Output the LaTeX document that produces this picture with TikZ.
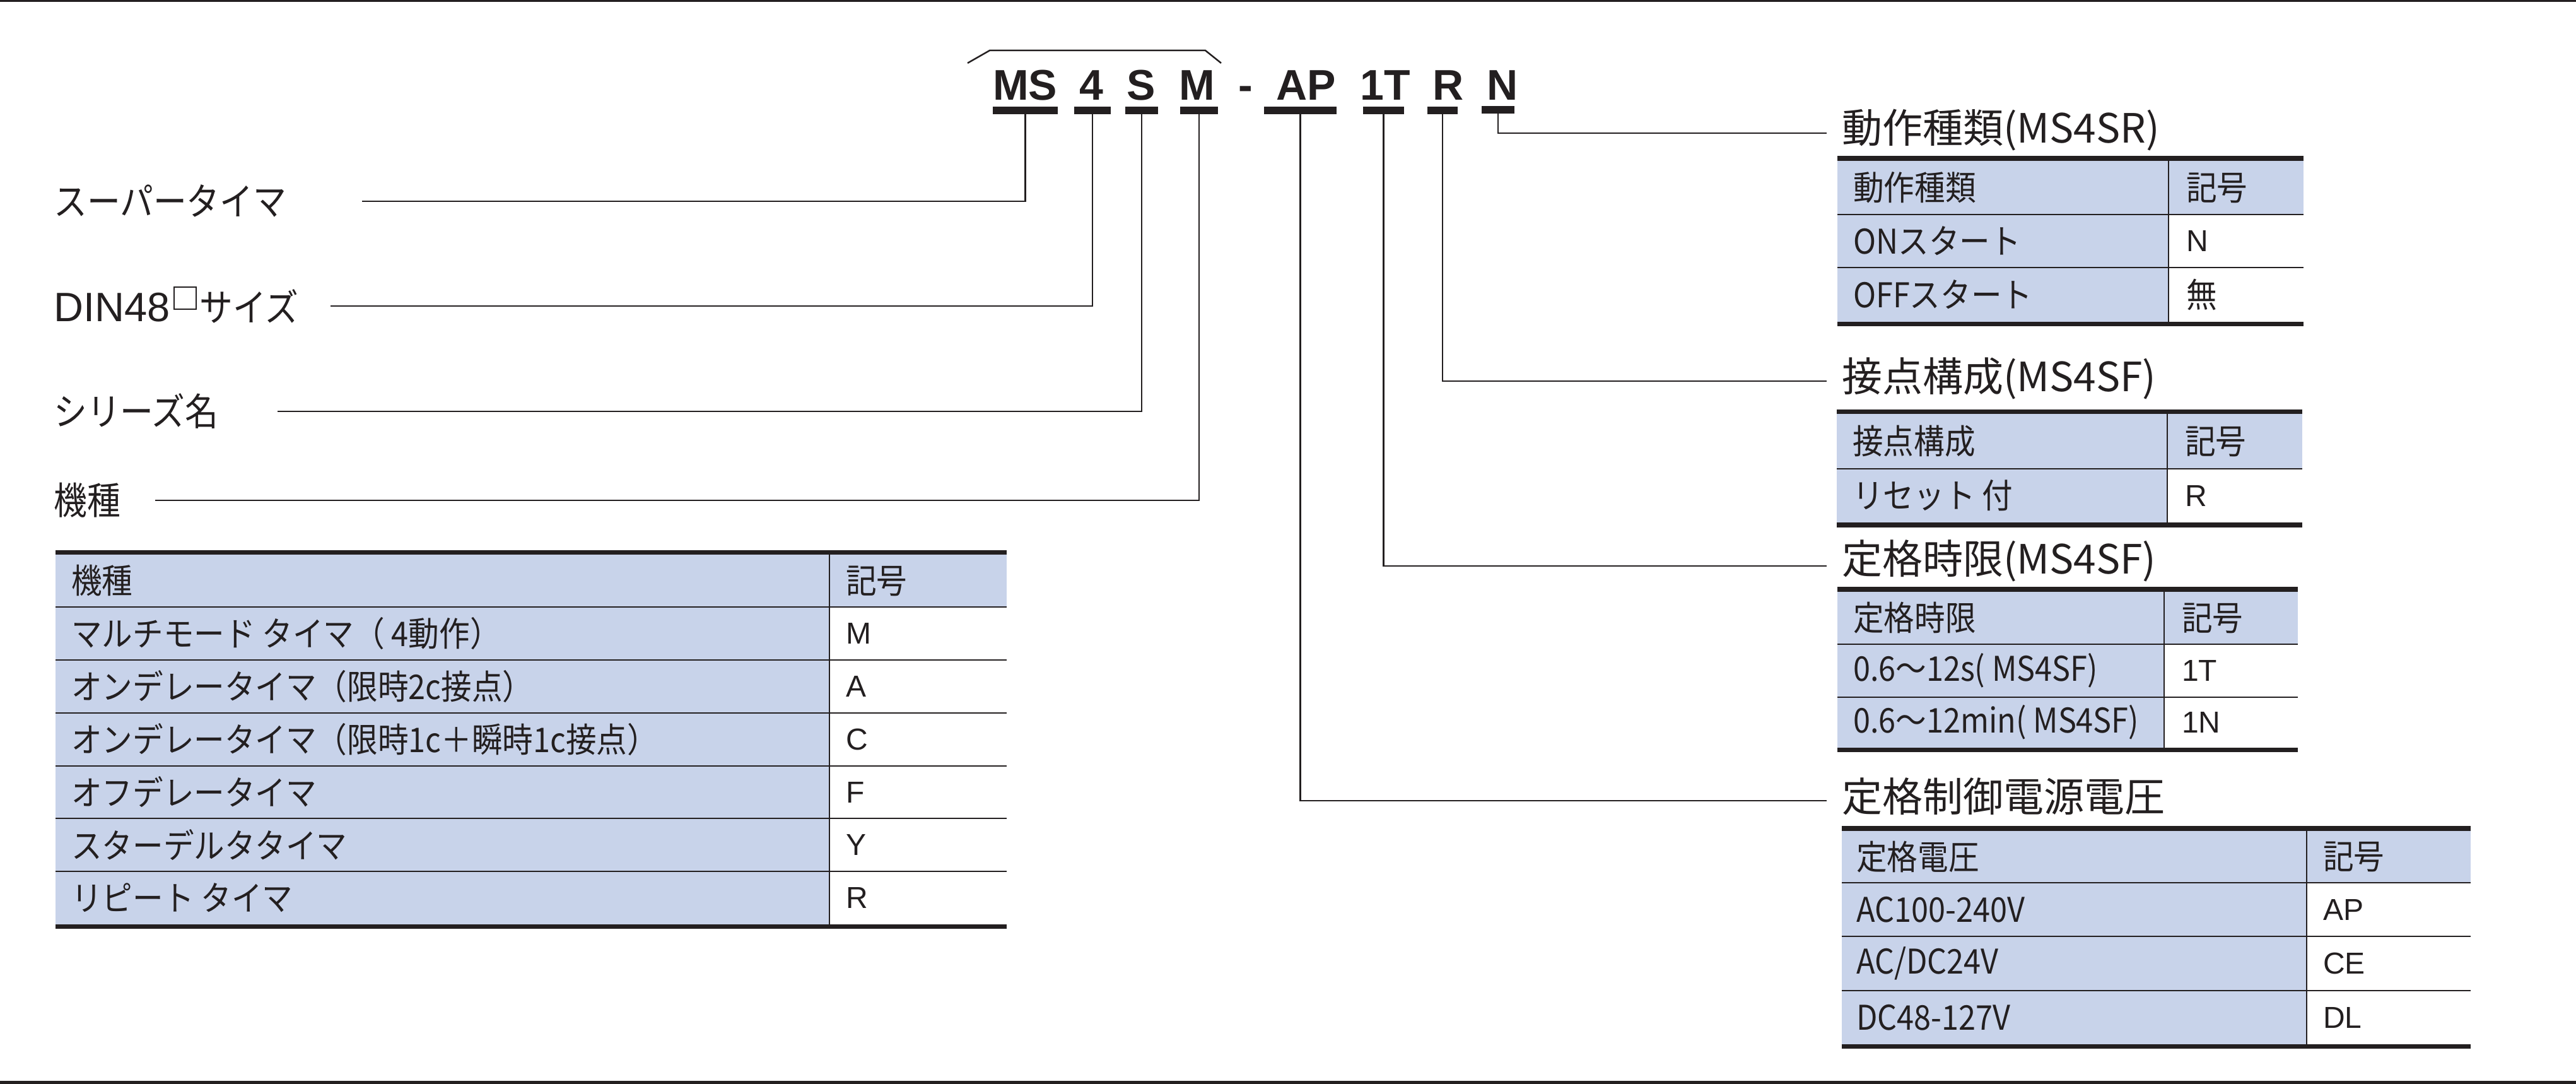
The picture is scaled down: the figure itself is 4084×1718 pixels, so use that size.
\documentclass[tikz,border=0pt]{standalone}
\usepackage{fontspec}
\setmainfont{Noto Sans CJK JP}
\newfontfamily\jplabel[FakeStretch=0.88]{Noto Sans CJK JP}
\newfontfamily\jpcell[FakeStretch=0.9]{Noto Sans CJK JP}
\newfontfamily\codefont{Liberation Sans}
\newfontfamily\symfont{Liberation Sans}
\newcommand{\opensq}{\kern6pt\raisebox{20pt}{\setlength{\fboxsep}{0pt}\setlength{\fboxrule}{2pt}\fbox{\rule{0pt}{33pt}\hspace{33pt}}}\kern4pt}
\definecolor{ink}{RGB}{35,31,32}
\definecolor{cellblue}{RGB}{200,211,234}
\begin{document}
\begin{tikzpicture}[x=1pt, y=-1pt, color=ink,
        codetxt/.style={font={\codefont\bfseries\fontsize{68}{80}\selectfont}, anchor=base, inner sep=0},
        codebar/.style={fill=ink, minimum height=12pt, inner sep=0, outer sep=0},
        sidelbl/.style={font={\jplabel\fontsize{60}{68}\selectfont}, anchor=base west, inner sep=0},
        tbltitle/.style={font={\fontsize{64}{72}\selectfont}, anchor=west, inner sep=0},
        celltxt/.style={font={\jpcell\fontsize{54}{60}\selectfont}, anchor=west, inner sep=0},
        symtxt/.style={font={\symfont\fontsize{48}{56}\selectfont}, anchor=west, inner sep=0},
        link/.style={line width=2.5pt},
        thinrule/.style={line width=2.5pt},
        heavyrule/.style={line width=7.5pt}]
    \useasboundingbox (0, 0) rectangle (4084, 1718);
    \draw[line width=3pt] (0, 1.5) -- (4084, 1.5);
    \draw[line width=5pt] (0, 1715.5) -- (4084, 1715.5);

    \draw[link] (1534, 100) -- (1569, 80) -- (1911, 80) -- (1936, 100);
    \node[codetxt] (tMS) at (1625, 158) {MS};
    \node[codetxt] (t4) at (1730.5, 158) {4};
    \node[codetxt] (tS) at (1809.5, 158) {S};
    \node[codetxt] (tM) at (1898, 158) {M};
    \node[codetxt] (tDash) at (1975, 158) {-};
    \node[codetxt] (tAP) at (2071, 158) {AP};
    \node[codetxt] (t1T) at (2196, 158) {1T};
    \node[codetxt] (tR) at (2296, 158) {R};
    \node[codetxt] (tN) at (2382.5, 158) {N};

    \node[codebar, minimum width=103pt] (bMS) at (1625.5, 175) {};
    \node[codebar, minimum width=58pt] (b4) at (1732, 175) {};
    \node[codebar, minimum width=52pt] (bS) at (1810, 175) {};
    \node[codebar, minimum width=60pt] (bM) at (1901, 175) {};
    \node[codebar, minimum width=115pt] (bAP) at (2061.5, 175) {};
    \node[codebar, minimum width=65pt] (b1T) at (2193.5, 175) {};
    \node[codebar, minimum width=48pt] (bR) at (2287, 175) {};
    \node[codebar, minimum width=52pt] (bN) at (2375, 173.5) {};

    \node[sidelbl] (lSuper) at (85, 341) {スーパータイマ};
    \node[sidelbl] (lDin) at (85, 509) {{\codefont\fontsize{65}{70}\selectfont DIN48}\opensq サイズ};
    \node[sidelbl] (lSeries) at (85, 674) {シリーズ名};
    \node[sidelbl] (lKind) at (85, 815) {機種};
    \coordinate (eSuper) at (574, 319);
    \coordinate (eDin) at (524, 485);
    \coordinate (eSeries) at (440, 652);
    \coordinate (eKind) at (246, 793);
    \draw[link] (bMS.south) |- (eSuper);
    \draw[link] (b4.south) |- (eDin);
    \draw[link] (bS.south) |- (eSeries);
    \draw[link] (bM.south) |- (eKind);

    \coordinate (eOp) at (2896, 211);
    \coordinate (eCont) at (2896, 604);
    \coordinate (eTime) at (2896, 897);
    \coordinate (eVolt) at (2896, 1269);
    \draw[link] (bN.south) |- (eOp);
    \draw[link] (bR.south) |- (eCont);
    \draw[link] (b1T.south) |- (eTime);
    \draw[link] (bAP.south) |- (eVolt);

    \fill[cellblue] (88, 879) rectangle (1315, 1465);
    \fill[cellblue] (1315, 879) rectangle (1596, 962);
    \draw[thinrule] (88, 962) -- (1596, 962);
    \draw[thinrule] (88, 1046) -- (1596, 1046);
    \draw[thinrule] (88, 1130) -- (1596, 1130);
    \draw[thinrule] (88, 1214) -- (1596, 1214);
    \draw[thinrule] (88, 1297) -- (1596, 1297);
    \draw[thinrule] (88, 1381) -- (1596, 1381);
    \draw[thinrule] (1315, 879) -- (1315, 1465);
    \draw[heavyrule] (88, 875.5) -- (1596, 875.5);
    \draw[heavyrule] (88, 1468.5) -- (1596, 1468.5);
    \node[celltxt] (k0) at (113, 920.5) {機種};
    \node[celltxt] (ks0) at (1341, 920.5) {記号};
    \node[celltxt] (k1) at (113, 1004) {マルチモード タイマ（ 4動作）};
    \node[symtxt] (ks1) at (1341, 1004) {M};
    \node[celltxt] (k2) at (113, 1088) {オンデレータイマ（限時2c接点）};
    \node[symtxt] (ks2) at (1341, 1088) {A};
    \node[celltxt] (k3) at (113, 1172) {オンデレータイマ（限時1c＋瞬時1c接点）};
    \node[symtxt] (ks3) at (1341, 1172) {C};
    \node[celltxt] (k4) at (113, 1255.5) {オフデレータイマ};
    \node[symtxt] (ks4) at (1341, 1255.5) {F};
    \node[celltxt] (k5) at (113, 1339) {スターデルタタイマ};
    \node[symtxt] (ks5) at (1341, 1339) {Y};
    \node[celltxt] (k6) at (113, 1423) {リピート タイマ};
    \node[symtxt] (ks6) at (1341, 1423) {R};

    \node[tbltitle] (hOp) at (2920, 206) {動作種類(MS4SR)};
    \fill[cellblue] (2913, 255) rectangle (3438, 510);
    \fill[cellblue] (3438, 255) rectangle (3652, 340);
    \draw[thinrule] (2913, 340) -- (3652, 340);
    \draw[thinrule] (2913, 424) -- (3652, 424);
    \draw[thinrule] (3438, 255) -- (3438, 510);
    \draw[heavyrule] (2913, 251) -- (3652, 251);
    \draw[heavyrule] (2913, 513.5) -- (3652, 513.5);
    \node[celltxt] (op0) at (2938, 297.5) {動作種類};
    \node[celltxt] (ops0) at (3466, 297.5) {記号};
    \node[celltxt] (op1) at (2938, 382) {ONスタート};
    \node[symtxt] (ops1) at (3466, 382) {N};
    \node[celltxt] (op2) at (2938, 467) {OFFスタート};
    \node[celltxt] (ops2) at (3466, 467) {無};

    \node[tbltitle] (hCont) at (2920, 600) {接点構成(MS4SF)};
    \fill[cellblue] (2912, 656) rectangle (3436, 828);
    \fill[cellblue] (3436, 656) rectangle (3650, 743);
    \draw[thinrule] (2912, 743) -- (3650, 743);
    \draw[thinrule] (3436, 656) -- (3436, 828);
    \draw[heavyrule] (2912, 652.5) -- (3650, 652.5);
    \draw[heavyrule] (2912, 832) -- (3650, 832);
    \node[celltxt] (ct0) at (2937, 699.5) {接点構成};
    \node[celltxt] (cts0) at (3464, 699.5) {記号};
    \node[celltxt] (ct1) at (2937, 785.5) {リセット 付};
    \node[symtxt] (cts1) at (3464, 785.5) {R};

    \node[tbltitle] (hTime) at (2920, 889) {定格時限(MS4SF)};
    \fill[cellblue] (2913, 938) rectangle (3431, 1185);
    \fill[cellblue] (3431, 938) rectangle (3643, 1021);
    \draw[thinrule] (2913, 1021) -- (3643, 1021);
    \draw[thinrule] (2913, 1105) -- (3643, 1105);
    \draw[thinrule] (3431, 938) -- (3431, 1185);
    \draw[heavyrule] (2913, 934) -- (3643, 934);
    \draw[heavyrule] (2913, 1188.5) -- (3643, 1188.5);
    \node[celltxt] (tm0) at (2938, 979.5) {定格時限};
    \node[celltxt] (tms0) at (3459, 979.5) {記号};
    \node[celltxt] (tm1) at (2938, 1063) {0.6～12s( MS4SF)};
    \node[symtxt] (tms1) at (3459, 1063) {1T};
    \node[celltxt] (tm2) at (2938, 1145) {0.6～12min( MS4SF)};
    \node[symtxt] (tms2) at (3459, 1145) {1N};

    \node[tbltitle] (hVolt) at (2920, 1262) {定格制御電源電圧};
    \fill[cellblue] (2920, 1317) rectangle (3657, 1655);
    \fill[cellblue] (3657, 1317) rectangle (3917, 1399);
    \draw[thinrule] (2920, 1399) -- (3917, 1399);
    \draw[thinrule] (2920, 1484) -- (3917, 1484);
    \draw[thinrule] (2920, 1570) -- (3917, 1570);
    \draw[thinrule] (3657, 1317) -- (3657, 1655);
    \draw[heavyrule] (2920, 1313) -- (3917, 1313);
    \draw[heavyrule] (2920, 1658.5) -- (3917, 1658.5);
    \node[celltxt] (vt0) at (2943, 1358) {定格電圧};
    \node[celltxt] (vts0) at (3683, 1358) {記号};
    \node[celltxt] (vt1) at (2943, 1441.5) {AC100-240V};
    \node[symtxt] (vts1) at (3683, 1441.5) {AP};
    \node[celltxt] (vt2) at (2943, 1527) {AC/DC24V};
    \node[symtxt] (vts2) at (3683, 1527) {CE};
    \node[celltxt] (vt3) at (2943, 1612.5) {DC48-127V};
    \node[symtxt] (vts3) at (3683, 1612.5) {DL};
\end{tikzpicture}
\end{document}
